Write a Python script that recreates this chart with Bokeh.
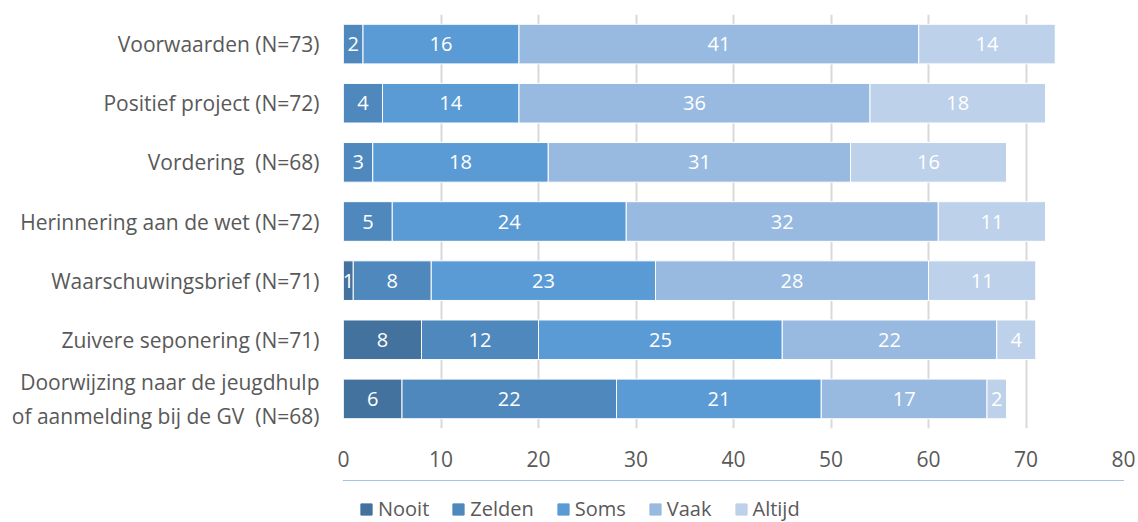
from bokeh.plotting import figure
from bokeh.layouts import column
from bokeh.models import ColumnDataSource, FactorRange, Legend, LegendItem
from bokeh.core.properties import value
from bokeh.embed import file_html
from bokeh.resources import INLINE

categories = [
    "Voorwaarden (N=73)",
    "Positief project (N=72)",
    "Vordering \u00a0(N=68)",
    "Herinnering aan de wet (N=72)",
    "Waarschuwingsbrief (N=71)",
    "Zuivere seponering (N=71)",
    "Doorwijzing naar de jeugdhulp\nof aanmelding bij de GV \u00a0(N=68)",
]
series = ["Nooit", "Zelden", "Soms", "Vaak", "Altijd"]
nooit = [0, 0, 0, 0, 1, 8, 6]
zelden = [2, 4, 3, 5, 8, 12, 22]
soms = [16, 14, 18, 24, 23, 25, 21]
vaak = [41, 36, 31, 32, 28, 22, 17]
altijd = [14, 18, 16, 11, 11, 4, 2]
colors = ["#43729E", "#4F88BC", "#5B9BD5", "#98BAE0", "#BDD1EB"]
x_ticks = [0, 10, 20, 30, 40, 50, 60, 70, 80]

FONT = "Open Sans"
GREY = "#595959"

data = {"cat": categories}
for name, vals in zip(series, [nooit, zelden, soms, vaak, altijd]):
    data[name] = vals
source = ColumnDataSource(data)

p = figure(
    width=1138, height=480,
    y_range=FactorRange(factors=list(reversed(categories))),
    x_range=(0, 80),
    output_backend="svg", toolbar_location=None,
    min_border_left=343, min_border_right=15, min_border_top=14, min_border_bottom=52,
)
p.outline_line_color = None
p.background_fill_color = "white"

renderers = p.hbar_stack(series, y="cat", height=0.67, color=colors, source=source,
                         line_color="white", line_width=1)

# value labels
lx, ly, lt = [], [], []
for i, c in enumerate(categories):
    left = 0
    for vals in [nooit, zelden, soms, vaak, altijd]:
        v = vals[i]
        if v > 0:
            lx.append(left + v / 2)
            ly.append(c)
            lt.append(str(v))
        left += v
p.text(x=lx, y=ly, text=lt, text_align="center", text_baseline="middle",
       text_color="white", text_font=value(FONT), text_font_size="20px")

p.xaxis.ticker = x_ticks
p.xgrid.ticker = x_ticks
p.xgrid.grid_line_color = "#D9D9D9"
p.xgrid.grid_line_width = 2
p.ygrid.grid_line_color = None
for ax in (p.xaxis[0], p.yaxis[0]):
    ax.axis_line_color = None
    ax.major_tick_line_color = None
    ax.minor_tick_line_color = None
    ax.major_label_text_color = GREY
    ax.major_label_text_font = FONT
p.xaxis.major_label_text_font_size = "21px"
p.yaxis.major_label_text_font_size = "21px"
p.yaxis.major_label_text_line_height = 1.2
p.xaxis.major_label_standoff = 16
p.yaxis.major_label_standoff = 18

# legend strip below the chart (proxy bars lie outside its visible range)
lg = figure(width=1138, height=42, x_range=(0, 1), y_range=(0, 1),
            output_backend="svg", toolbar_location=None, min_border=0)
lg.outline_line_color = None
lg.xaxis.visible = False
lg.yaxis.visible = False
lg.xgrid.grid_line_color = None
lg.ygrid.grid_line_color = None
items = []
for s, c in zip(series, colors):
    r = lg.hbar(y=[5], left=[0], right=[1], height=0.5, color=c)
    items.append(LegendItem(label=s, renderers=[r]))
legend = Legend(items=items, orientation="horizontal", location=(16, 0),
                label_text_font=FONT, label_text_font_size="20px",
                label_text_color=GREY, glyph_width=14, glyph_height=14,
                label_height=20, label_standoff=5, spacing=22, padding=0, margin=0,
                border_line_color=None, background_fill_alpha=0)
lg.add_layout(legend, "center")

layout = column(p, lg, spacing=0)
open("out.html", "w").write(file_html(layout, INLINE))
